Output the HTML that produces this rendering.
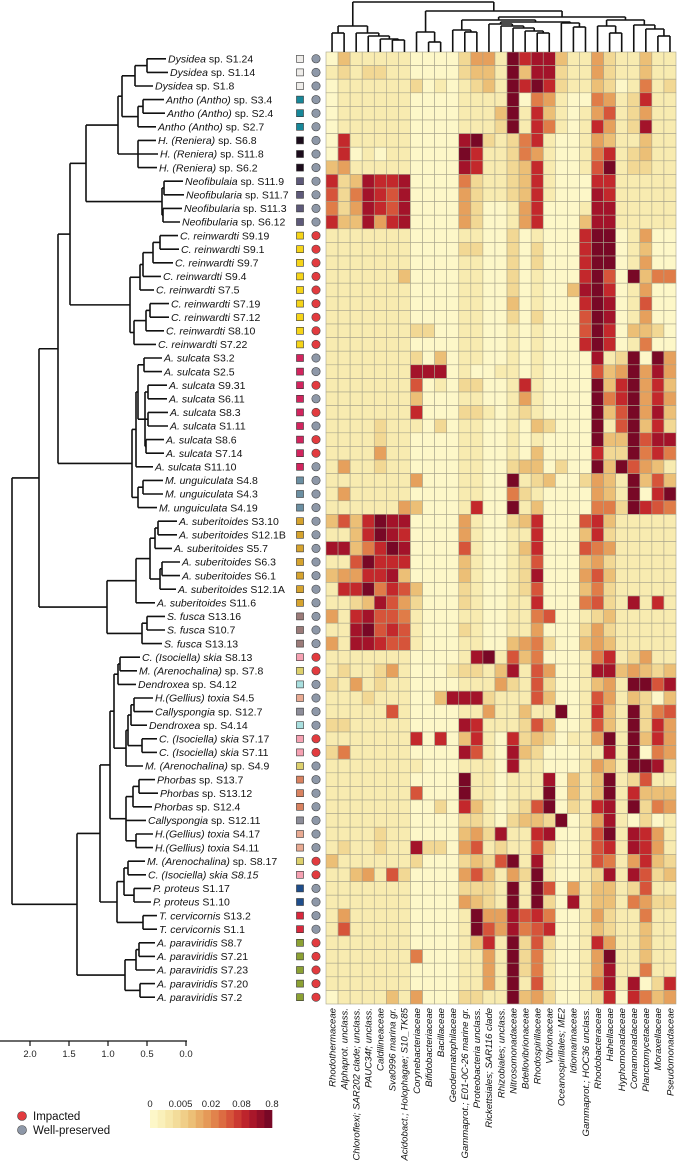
<!DOCTYPE html>
<html><head><meta charset="utf-8">
<style>
html,body{margin:0;padding:0;background:#fff;}
svg{display:block;font-family:"Liberation Sans",sans-serif;}
</style></head>
<body>
<svg id="fig" width="678" height="1174" viewBox="0 0 678 1174" xmlns="http://www.w3.org/2000/svg"></svg>
<script>
// ---- data ----
const colLabels = ["Rhodothermaceae","Alphaprot. unclass.","Chloroflexi; SAR202 clade; unclass.","PAUC34f; unclass.","Caldilineaceae","Sva0996 marina gr.","Acidobact.; Holophagae; S10_TK85","Corynebacteriaceae","Bifidobacteriaceae","Bacillaceae","Geodermatophilaceae","Gammaprot.; E01-0C-26 marine gr.","Proteobacteria unclass.","Rickettsiales; SAR116 clade","Rhizobiales; unclass.","Nitrosomonadaceae","Bdellovibrionaceae","Rhodospirillaceae","Vibrionaceae","Oceanospirillales; ME2","Idiomarinaceae","Gammaprot.; HOC36 unclass.","Rhodobacteraceae","Hahellaceae","Hyphomonadaceae","Comamonadaceae","Planctomycetaceae","Moraxellaceae","Pseudomonadaceae"];
const rowTaxa = ["Dysidea","Dysidea","Dysidea","Antho (Antho)","Antho (Antho)","Antho (Antho)","H. (Reniera)","H. (Reniera)","H. (Reniera)","Neofibulaia","Neofibularia","Neofibularia","Neofibularia","C. reinwardti","C. reinwardti","C. reinwardti","C. reinwardti","C. reinwardti","C. reinwardti","C. reinwardti","C. reinwardti","C. reinwardti","A. sulcata","A. sulcata","A. sulcata","A. sulcata","A. sulcata","A. sulcata","A. sulcata","A. sulcata","A. sulcata","M. unguiculata","M. unguiculata","M. unguiculata","A. suberitoides","A. suberitoides","A. suberitoides","A. suberitoides","A. suberitoides","A. suberitoides","A. suberitoides","S. fusca","S. fusca","S. fusca","C. (Isociella) skia","M. (Arenochalina)","Dendroxea","H.(Gellius) toxia","Callyspongia","Dendroxea","C. (Isociella) skia","C. (Isociella) skia","M. (Arenochalina)","Phorbas","Phorbas","Phorbas","Callyspongia","H.(Gellius) toxia","H.(Gellius) toxia","M. (Arenochalina)","C. (Isociella) skia S8.15","P. proteus","P. proteus","T. cervicornis","T. cervicornis","A. paraviridis","A. paraviridis","A. paraviridis","A. paraviridis","A. paraviridis"];
const rowSamples = ["sp. S1.24","sp. S1.14","sp. S1.8","sp. S3.4","sp. S2.4","sp. S2.7","sp. S6.8","sp. S11.8","sp. S6.2","sp. S11.9","sp. S11.7","sp. S11.3","sp. S6.12","S9.19","S9.1","S9.7","S9.4","S7.5","S7.19","S7.12","S8.10","S7.22","S3.2","S2.5","S9.31","S6.11","S8.3","S1.11","S8.6","S7.14","S11.10","S4.8","S4.3","S4.19","S3.10","S12.1B","S5.7","S6.3","S6.1","S12.1A","S11.6","S13.16","S10.7","S13.13","S8.13","sp. S7.8","sp. S4.12","S4.5","sp. S12.7","sp. S4.14","S7.17","S7.11","sp. S4.9","sp. S13.7","sp. S13.12","sp. S12.4","sp. S12.11","S4.17","S4.11","sp. S8.17","","S1.17","S1.10","S13.2","S1.1","S8.7","S7.21","S7.23","S7.20","S7.2"];
const rowStatus = "gggggggggggggiiiiiiiiiggigigiiggggggggggggggiigggiiggggggggiiggggiiiii".split("");
// fix: rows 14-22 impacted, sulcata S9.31,S8.3,S8.6,S7.14
const impactedRows = [14,15,16,17,18,19,20,21,22,25,27,29,30,45,46,51,52,60,61,66,67,68,69,70];
// abundance level per row (0..9) for 29 families
const values = [
"03111110000244197883114211311","12122110000233193882114211311","01111112010123197972113201512",
"01111110000111190541005412711","01111110000111391731014612411","01111110000111291751017412811",
"07111110000892125710014311311","07010110000971125410015712311","34111110000871123710016912211",
"72387780000521123710007711111","62587680000421123710008711111","52487680000420014700018811111",
"73384780000420014700038811111","11111110000110020100079901400","11111110000220020200079901300",
"11111110000110020200079901400","11111130000110020100079609355","11111110000110020100389701400",
"11111110000110030100079801600","11111110000110020200069801400","11111112200110010100069703320",
"11111110000110010100079701500","11111112030110010100008129094","11111118880100110100006349484",
"11111116010220017100009379473","11111113000110014100009579474","11111117000221012100009369483",
"11112111020110010320009169372","11112110000110010100009339688","11114110000110010300007229575",
"14112110000110023302009396431","11111114000110091230024319363","14111110000110052100004319079",
"11111143000170091300005529765","36379880000410023700067311111","11379870000410011700037211111",
"88357980000610013700065411111","11697770000310012600034211111","34477830000310012800046311111",
"17795763000210012600035211111","11238642000210011700056218171","41786651000110011560012311111",
"11896761000210011400024211111","41887661000110034520034311111","11111110000189163500015712411",
"12112410001221381640018834323","21412110000111421620013419968","11121110038882111630016413203",
"11111610000114113119017319256","22111110000871112630016319274","11111117070371072320114919374",
"25111110000861083200011819054","11111111000111081100014319982","11111110000911011180313912611",
"11111116000911011190313917333","11111110020731012690217819254","11111110000221023329014810201",
"11112110000342811780016918741","12112118220461211620016718741","31111112000232691810016514732",
"11341620000463142910012818623","11111110000222191960413312611","11111110000432191920813315422",
"14111110000194486750014211511","16111110000196485670013211311","11111110000137192620017411311",
"11111115000114192510014911311","11111110000114192510014811511","11111110000114191610015818027",
"01111314000221193420012707534"];
const scaleTicks = [2.0,1.5,1.0,0.5,0.0];
const colorbarTicks = ["0","0.005","0.02","0.08","0.8"];

// ---- styling / layout ----
const pal=['#fdf7c8','#f8ebb0','#f2d894','#ecbf76','#e6a05c','#e07c48','#d6543a','#c3282c','#a3132a','#780826'];
const groupColor={"Dysidea":"#efedea","Antho (Antho)":"#17889a","H. (Reniera)":"#1c0c1c","Neofibulaia":"#5e5a7a","Neofibularia":"#5e5a7a","C. reinwardti":"#f6d418","A. sulcata":"#d2245e","M. unguiculata":"#6b8fa2","A. suberitoides":"#d6a32e","S. fusca":"#9b7b79","C. (Isociella) skia":"#f6a1b2","C. (Isociella) skia S8.15":"#f6a1b2","M. (Arenochalina)":"#ddd06c","Dendroxea":"#a9dfdf","H.(Gellius) toxia":"#e9aa92","Callyspongia":"#8d8d99","Phorbas":"#d98260","P. proteus":"#1f4e8c","T. cervicornis":"#d9283c","A. paraviridis":"#8ca133"};
const leafEndX=[166,168,153,164,165,156,156,158,157,183,184,182,180,178,179,173,161,154,169,169,164,156,162,162,167,167,168,168,164,164,153,163,163,157,177,177,172,180,180,176,155,165,165,162,140,137,136,153,153,147,157,157,143,155,158,152,146,153,153,145,146,151,151,157,157,155,155,155,155,155];
const GX=326, GY=52, GW=350, GH=952;
const NR=values.length, NC=colLabels.length;
const CW=GW/NC, RH=GH/NR;
const xCol=c=>GX+CW*c, yRow=r=>GY+RH*r;
const NS="http://www.w3.org/2000/svg";
const svg=document.getElementById('fig');
function el(tag,attrs,parent){const e=document.createElementNS(NS,tag);for(const k in attrs)e.setAttribute(k,attrs[k]);(parent||svg).appendChild(e);return e;}

// ---- heatmap cells ----
const gCells=el('g',{});


for(let r=0;r<NR;r++){for(let c=0;c<NC;c++){
  const v=+values[r][c];
  const rc=el('rect',{x:xCol(c),y:yRow(r),width:CW,height:RH,fill:pal[v],stroke:'#a8a48c','stroke-width':0.6},gCells);
  
  
}}

// ---- row labels, group squares, status dots ----
for(let r=0;r<NR;r++){
  const cy=yRow(r)+RH/2;
  const t=el('text',{x:leafEndX[r]+2,y:cy+3.7,'font-size':10.5,fill:'#111'});
  
  
  const s1=el('tspan',{'font-style':'italic'},t); s1.textContent=rowTaxa[r];
  if(rowSamples[r]){const s2=el('tspan',{},t); s2.textContent=' '+rowSamples[r];}
  const sq=el('rect',{x:296.5,y:cy-3.5,width:7,height:7,fill:groupColor[rowTaxa[r]],stroke:'#333','stroke-width':0.6});
  
  
  const imp=impactedRows.indexOf(r+1)>=0;
  const ci=el('circle',{cx:316,cy:cy,r:4.2,fill:imp?'#e23b3f':'#8e98a8',stroke:'#444','stroke-width':0.6});
  
  
}

// ---- column labels ----
for(let c=0;c<NC;c++){
  const cx=xCol(c)+CW/2+3.3;
  const t=el('text',{transform:`translate(${cx},1008) rotate(-90)`,'text-anchor':'end','font-size':9.6,'font-style':'italic',fill:'#111'});
  t.textContent=colLabels[c];
  
  
}

// ---- left dendrogram ----
function N(p,...c){return {p:p,c:c};}
const rowTree=N(12,
 N(39,
  N(58,
   N(70,
    N(86, N(118, N(122, N(135,N(147,1,2),3), N(138,N(143,4,5),6)), N(138,7,8,9)), N(162,N(164,10,11),N(163,12,13))),
    N(130, N(140,N(143,N(153,N(160,14,15),16),17),18), N(134,N(146,N(150,19,20),21),22))),
   N(132, N(136, N(138, N(144,23,24), N(145,N(148,25,26),N(148,27,28),N(146,29,30))),31), N(138,N(143,32,33),34))),
  N(107, N(136, N(150, N(155,N(158,35,36),37), N(160,N(162,38,39),40)),41), N(142,N(147,42,43),44))),
 N(77,
  N(100,
   N(110,
    N(114, N(118,N(120,45,46),47), N(126,N(128,N(131,N(134,48,49),50),N(142,51,52)),53)),
    N(126, N(133,N(139,54,55),56),57,N(136,58,59))),
   N(117, N(124,N(128,60,61),N(134,62,63)), N(143,64,65))),
  N(125, N(136,N(139,66,67),68), N(140,69,70))));
const gTree=el('g',{stroke:'#111','stroke-width':1.6,fill:'none'});


function drawRow(n){
  if(typeof n==='number'){return {pos:yRow(n-1)+RH/2, h:leafEndX[n-1]};}
  const ch=n.c.map(drawRow);
  const ps=ch.map(d=>d.pos);
  const lo=Math.min(...ps),hi=Math.max(...ps);
  el('line',{x1:n.p,x2:n.p,y1:lo,y2:hi},gTree);
  ch.forEach(d=>el('line',{x1:n.p,x2:d.h,y1:d.pos,y2:d.pos},gTree));
  return {pos:(lo+hi)/2,h:n.p};
}
drawRow(rowTree);

// ---- top dendrogram ----
const colTree=N(2,
 N(26, N(33,1,2), N(33,3,N(36,4,N(39,5,N(40,6,7))))),
 N(11,
  N(32,8,N(42,9,10)),
  N(17,
   N(20, N(30,11,N(32,12,13)), N(22, N(24,14,N(26,15,N(28,16,N(31,17,N(33,18,19))))), N(23,20,N(27,21,22)))),
   N(20, N(26,23,N(33,24,25)), N(25,26,N(29,27,N(36,28,29)))))));
const gTop=el('g',{stroke:'#111','stroke-width':1.6,fill:'none'});


function drawCol(n){
  if(typeof n==='number'){return {pos:xCol(n-1)+CW/2,h:GY};}
  const ch=n.c.map(drawCol);
  const ps=ch.map(d=>d.pos);
  const lo=Math.min(...ps),hi=Math.max(...ps);
  el('line',{x1:lo,x2:hi,y1:n.p,y2:n.p},gTop);
  ch.forEach(d=>el('line',{x1:d.pos,x2:d.pos,y1:n.p,y2:d.h},gTop));
  return {pos:(lo+hi)/2,h:n.p};
}
drawCol(colTree);

// ---- scale axis ----
const gAx=el('g',{});


const sx=v=>186-78*v;
el('line',{x1:0,x2:187,y1:1041,y2:1041,stroke:'#111','stroke-width':1.2},gAx);
scaleTicks.forEach(v=>{
  el('line',{x1:sx(v),x2:sx(v),y1:1041,y2:1046,stroke:'#111','stroke-width':1.2},gAx);
  const t=el('text',{x:sx(v),y:1057,'text-anchor':'middle','font-size':9.5,fill:'#222'},gAx);
  t.textContent=v.toFixed(1);
  
  
});

// ---- status legend ----
const lg=el('g',{});


[['Impacted','#e23b3f',1116],['Well-preserved','#8e98a8',1130]].forEach(d=>{
  const c=el('circle',{cx:22,cy:d[2],r:4.5,fill:d[1],stroke:'#444','stroke-width':0.6},lg);
  
  
  const t=el('text',{x:33,y:d[2]+4,'font-size':11.5,fill:'#111'},lg);
  t.textContent=d[0];
  
  
});

// ---- colorbar ----
const cb=el('g',{});


const nSeg=16, cbx=150, cbw=122;
function mix(a,b,t){const pa=parseInt(a.slice(1),16),pb=parseInt(b.slice(1),16);let o='#';for(const s of [16,8,0]){const va=(pa>>s)&255,vb=(pb>>s)&255;o+=Math.round(va+(vb-va)*t).toString(16).padStart(2,'0');}return o;}
for(let i=0;i<nSeg;i++){
  const f=i/(nSeg-1)*9, k=Math.min(8,Math.floor(f));
  const r=el('rect',{x:cbx+cbw*i/nSeg,y:1110,width:cbw/nSeg+0.3,height:18,fill:mix(pal[k],pal[k+1],f-k)},cb);
  
  
}
colorbarTicks.forEach((s,i)=>{
  const t=el('text',{x:cbx+cbw*i/(colorbarTicks.length-1),y:1107,'text-anchor':'middle','font-size':9.5,fill:'#222'},cb);
  t.textContent=s;
  
  
});
</script>
</body></html>
